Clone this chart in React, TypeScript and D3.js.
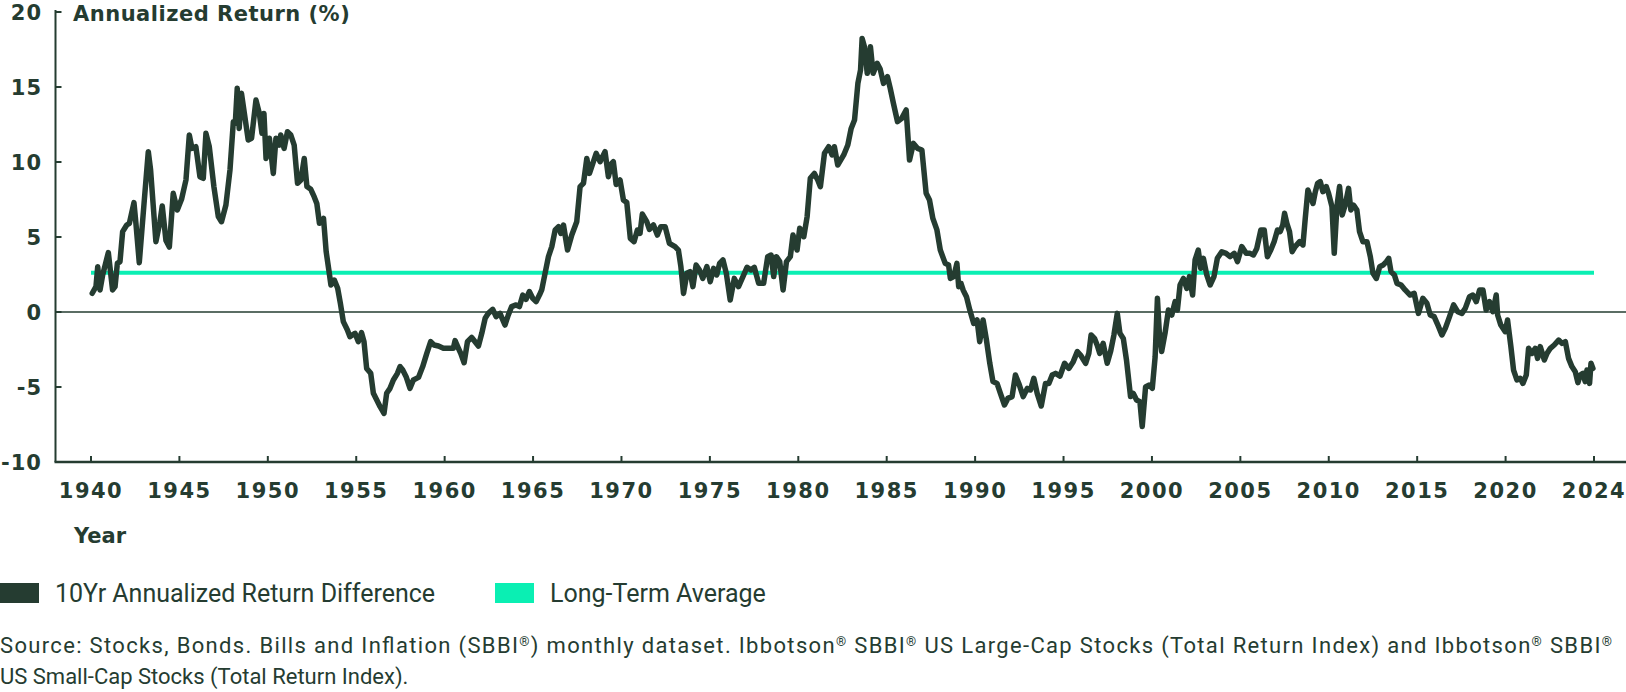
import React, { useRef, useEffect } from "react";
import * as d3 from "d3";

// 10-year annualized return difference (decimal year, %)
const returnDiff: [number, number][] = [
  [1940.07, 1.25], [1940.28, 1.69], [1940.38, 3.02], [1940.51, 1.47], [1940.66, 2.47], [1940.98, 3.96],
  [1941.22, 1.47], [1941.36, 1.69], [1941.49, 3.24], [1941.64, 3.36], [1941.79, 5.36], [1942.02, 5.8],
  [1942.17, 5.91], [1942.43, 7.29], [1942.54, 5.91], [1942.73, 3.29], [1943.0, 7.24], [1943.24, 10.69],
  [1943.37, 9.47], [1943.67, 4.69], [1943.9, 6.02], [1944.03, 7.07], [1944.24, 4.76], [1944.43, 4.33],
  [1944.65, 7.91], [1944.88, 6.8], [1945.12, 7.51], [1945.37, 8.8], [1945.56, 11.8], [1945.71, 10.91],
  [1945.93, 11.02], [1946.16, 9.02], [1946.35, 8.91], [1946.5, 11.91], [1946.69, 11.02], [1946.95, 8.36],
  [1947.2, 6.36], [1947.38, 6.02], [1947.63, 7.13], [1947.86, 9.47], [1948.05, 12.69], [1948.16, 12.58],
  [1948.27, 14.91], [1948.38, 12.24], [1948.51, 14.58], [1948.7, 13.02], [1948.89, 11.47], [1949.08, 11.58],
  [1949.33, 14.13], [1949.52, 13.24], [1949.67, 11.91], [1949.78, 13.24], [1949.9, 10.24], [1950.09, 11.58],
  [1950.31, 9.24], [1950.46, 11.58], [1950.65, 11.13], [1950.73, 11.8], [1950.92, 10.91], [1951.11, 12.02],
  [1951.3, 11.8], [1951.49, 11.13], [1951.68, 8.58], [1951.87, 8.8], [1952.06, 10.24], [1952.21, 8.36],
  [1952.43, 8.18], [1952.62, 7.69], [1952.77, 7.24], [1952.92, 5.91], [1953.15, 6.24], [1953.3, 4.02],
  [1953.45, 2.8], [1953.57, 1.8], [1953.76, 2.13], [1953.95, 1.58], [1954.1, 0.6], [1954.27, -0.64],
  [1954.5, -1.2], [1954.64, -1.64], [1954.93, -1.42], [1955.12, -1.98], [1955.3, -1.38], [1955.44, -1.98],
  [1955.59, -3.76], [1955.82, -4.09], [1955.97, -5.42], [1956.16, -5.87], [1956.35, -6.31], [1956.57, -6.76],
  [1956.72, -5.42], [1956.91, -5.09], [1957.1, -4.53], [1957.33, -4.09], [1957.48, -3.64], [1957.63, -3.87],
  [1957.82, -4.31], [1958.04, -5.09], [1958.23, -4.53], [1958.52, -4.36], [1958.76, -3.64], [1958.99, -2.76],
  [1959.21, -1.98], [1959.4, -2.2], [1959.65, -2.27], [1959.93, -2.42], [1960.21, -2.42], [1960.49, -2.42],
  [1960.59, -1.91], [1960.78, -2.42], [1960.91, -2.76], [1961.1, -3.38], [1961.29, -1.98], [1961.53, -1.69],
  [1961.72, -1.98], [1961.91, -2.27], [1962.1, -1.42], [1962.29, -0.42], [1962.47, -0.09], [1962.72, 0.18],
  [1962.91, -0.31], [1963.13, -0.09], [1963.41, -0.87], [1963.6, -0.2], [1963.79, 0.36], [1964.04, 0.47],
  [1964.23, 0.36], [1964.42, 1.13], [1964.6, 0.84], [1964.79, 1.36], [1964.98, 0.91], [1965.17, 0.69],
  [1965.36, 1.13], [1965.49, 1.47], [1965.68, 2.58], [1965.87, 3.69], [1966.06, 4.36], [1966.25, 5.47],
  [1966.44, 5.69], [1966.57, 5.24], [1966.72, 5.8], [1966.95, 4.13], [1967.19, 5.13], [1967.47, 6.02],
  [1967.66, 8.36], [1967.85, 8.58], [1968.04, 10.24], [1968.19, 9.24], [1968.38, 9.91], [1968.57, 10.58],
  [1968.79, 10.02], [1969.07, 10.69], [1969.26, 9.02], [1969.45, 9.91], [1969.54, 10.02], [1969.7, 8.5],
  [1969.92, 8.8], [1970.11, 7.47], [1970.3, 7.3], [1970.5, 4.91], [1970.71, 4.69], [1970.9, 5.47],
  [1971.05, 5.24], [1971.18, 6.53], [1971.43, 6.02], [1971.58, 5.51], [1971.81, 5.8], [1972.03, 5.13],
  [1972.22, 5.69], [1972.47, 5.69], [1972.71, 4.58], [1973.03, 4.36], [1973.22, 4.13], [1973.36, 3.02],
  [1973.51, 1.24], [1973.7, 2.58], [1973.88, 2.69], [1974.04, 1.69], [1974.22, 3.13], [1974.41, 2.8],
  [1974.6, 2.24], [1974.83, 3.02], [1975.02, 2.02], [1975.21, 2.91], [1975.39, 2.47], [1975.55, 3.24],
  [1975.74, 3.47], [1975.93, 2.58], [1976.15, 0.8], [1976.38, 2.24], [1976.62, 1.69], [1976.87, 2.36],
  [1977.1, 2.98], [1977.32, 2.8], [1977.51, 2.98], [1977.76, 1.91], [1978.04, 1.91], [1978.27, 3.69],
  [1978.46, 3.8], [1978.61, 2.36], [1978.76, 3.69], [1978.95, 3.36], [1979.14, 1.47], [1979.33, 3.36],
  [1979.55, 3.69], [1979.7, 5.13], [1979.93, 4.13], [1980.08, 5.58], [1980.31, 5.02], [1980.5, 6.36],
  [1980.68, 8.91], [1980.91, 9.24], [1981.1, 8.8], [1981.25, 8.36], [1981.48, 10.58], [1981.72, 11.02],
  [1981.91, 10.47], [1982.04, 11.02], [1982.23, 9.8], [1982.57, 10.47], [1982.8, 11.13], [1982.99, 12.24],
  [1983.18, 12.8], [1983.37, 15.24], [1983.52, 16.13], [1983.61, 18.24], [1983.74, 17.69], [1983.9, 15.91],
  [1984.08, 17.69], [1984.23, 15.91], [1984.46, 16.58], [1984.63, 16.2], [1984.82, 15.24], [1985.04, 15.69],
  [1985.2, 14.91], [1985.38, 13.91], [1985.61, 12.69], [1985.85, 12.91], [1986.1, 13.47], [1986.29, 10.13],
  [1986.51, 11.24], [1986.74, 10.91], [1986.99, 10.8], [1987.23, 7.91], [1987.42, 7.47], [1987.61, 6.24],
  [1987.84, 5.47], [1988.03, 4.13], [1988.31, 3.24], [1988.5, 3.13], [1988.6, 2.24], [1988.79, 2.36],
  [1988.97, 3.24], [1989.07, 1.69], [1989.2, 1.91], [1989.32, 1.47], [1989.51, 1.02], [1989.7, 0.13],
  [1989.92, -0.76], [1990.11, -0.53], [1990.26, -1.98], [1990.45, -0.53], [1990.64, -1.87], [1990.83, -3.42],
  [1991.01, -4.64], [1991.24, -4.76], [1991.43, -5.42], [1991.66, -6.2], [1991.85, -5.76], [1992.09, -5.64],
  [1992.28, -4.2], [1992.47, -4.76], [1992.72, -5.64], [1992.95, -5.09], [1993.13, -5.2], [1993.32, -4.42],
  [1993.51, -5.42], [1993.74, -6.27], [1993.98, -4.76], [1994.17, -4.76], [1994.36, -4.2], [1994.55, -4.09],
  [1994.8, -4.27], [1995.06, -3.42], [1995.3, -3.76], [1995.55, -3.31], [1995.78, -2.64], [1995.96, -2.87],
  [1996.25, -3.42], [1996.43, -2.76], [1996.56, -1.53], [1996.75, -1.76], [1996.9, -2.2], [1997.05, -2.76],
  [1997.24, -2.09], [1997.47, -3.42], [1997.66, -2.64], [1997.85, -1.53], [1998.04, -0.09], [1998.19, -1.42],
  [1998.38, -1.76], [1998.56, -3.2], [1998.79, -5.64], [1998.94, -5.42], [1999.13, -5.87], [1999.32, -5.98],
  [1999.45, -7.64], [1999.64, -5.0], [1999.83, -4.87], [2000.02, -5.09], [2000.18, -3.0], [2000.31, 0.91],
  [2000.42, -1.42], [2000.55, -2.64], [2000.74, -1.42], [2000.93, 0.13], [2001.12, -0.2], [2001.31, 0.69],
  [2001.44, 0.13], [2001.59, 1.8], [2001.78, 2.24], [2001.97, 1.58], [2002.12, 2.36], [2002.3, 1.13],
  [2002.44, 3.47], [2002.62, 4.13], [2002.76, 2.91], [2002.91, 3.58], [2003.1, 2.47], [2003.29, 1.8],
  [2003.51, 2.36], [2003.7, 3.58], [2003.95, 4.02], [2004.19, 3.91], [2004.42, 3.69], [2004.65, 3.91],
  [2004.84, 3.36], [2005.08, 4.36], [2005.33, 3.91], [2005.55, 3.91], [2005.74, 3.8], [2005.93, 4.24],
  [2006.16, 5.47], [2006.35, 5.47], [2006.53, 3.69], [2006.72, 4.13], [2006.91, 4.69], [2007.1, 5.47],
  [2007.25, 5.36], [2007.4, 5.8], [2007.5, 6.58], [2007.63, 5.91], [2007.78, 5.36], [2007.93, 4.02],
  [2008.1, 4.36], [2008.35, 4.69], [2008.54, 4.47], [2008.67, 6.24], [2008.82, 8.13], [2008.96, 7.69],
  [2009.11, 7.24], [2009.24, 8.02], [2009.37, 8.58], [2009.52, 8.69], [2009.67, 8.02], [2009.86, 8.36],
  [2009.99, 7.91], [2010.18, 7.02], [2010.31, 3.91], [2010.46, 7.02], [2010.61, 8.36], [2010.76, 6.47],
  [2010.93, 7.13], [2011.12, 8.24], [2011.25, 6.8], [2011.4, 7.13], [2011.59, 6.8], [2011.74, 5.36],
  [2011.93, 4.69], [2012.16, 4.69], [2012.35, 3.69], [2012.5, 2.58], [2012.69, 2.24], [2012.88, 3.02],
  [2013.07, 3.13], [2013.26, 3.36], [2013.39, 3.58], [2013.52, 2.69], [2013.71, 2.47], [2013.86, 1.91],
  [2014.09, 1.8], [2014.32, 1.47], [2014.6, 1.13], [2014.83, 1.24], [2015.07, -0.09], [2015.32, 0.91],
  [2015.55, 0.58], [2015.74, -0.2], [2015.96, -0.31], [2016.21, -0.98], [2016.4, -1.53], [2016.59, -1.09],
  [2016.83, -0.31], [2017.06, 0.47], [2017.29, 0.02], [2017.53, -0.09], [2017.72, 0.24], [2017.96, 1.02],
  [2018.15, 1.13], [2018.34, 0.69], [2018.53, 1.47], [2018.72, 1.47], [2018.9, 0.13], [2019.09, 0.69],
  [2019.28, 0.02], [2019.47, 1.13], [2019.55, -0.2], [2019.73, -0.87], [2019.98, -1.31], [2020.11, -0.53],
  [2020.3, -2.31], [2020.45, -3.87], [2020.64, -4.53], [2020.83, -4.42], [2020.98, -4.76], [2021.17, -4.2],
  [2021.3, -2.42], [2021.49, -2.76], [2021.68, -2.42], [2021.81, -3.09], [2021.96, -2.31], [2022.19, -3.2],
  [2022.34, -2.76], [2022.53, -2.42], [2022.75, -2.2], [2023.0, -1.87], [2023.19, -2.09], [2023.38, -1.98],
  [2023.56, -3.09], [2023.75, -3.64], [2023.94, -3.98], [2024.09, -4.71], [2024.22, -4.2], [2024.37, -4.09],
  [2024.5, -4.64], [2024.6, -3.87], [2024.75, -4.76], [2024.83, -3.42], [2024.94, -3.76],
];

const longTermAvg = 2.62;

const yTicks = [-10, -5, 0, 5, 10, 15, 20];
const xTickValues = [1940, 1945, 1950, 1955, 1960, 1965, 1970, 1975, 1980, 1985, 1990, 1995, 2000, 2005, 2010, 2015, 2020, 2025];
const xTickLabels = ["1940", "1945", "1950", "1955", "1960", "1965", "1970", "1975", "1980", "1985", "1990", "1995", "2000", "2005", "2010", "2015", "2020", "2024"];

const legendItems = ["10Yr Annualized Return Difference", "Long-Term Average"];
const sourceLines = [
  "Source: Stocks, Bonds. Bills and Inflation (SBBI®) monthly dataset. Ibbotson® SBBI® US Large-Cap Stocks (Total Return Index) and Ibbotson® SBBI®",
  "US Small-Cap Stocks (Total Return Index).",
];

const dark = "#253c31";
const teal = "#0aefb3";
const boldFont = "'DejaVu Sans', sans-serif";
const textFont = "Roboto, 'Liberation Sans', sans-serif";

export default function App() {
  const ref = useRef<SVGSVGElement>(null);
  const width = 1626;
  const height = 692;

  useEffect(() => {
    const svg = d3.select(ref.current);
    svg.selectAll("*").remove();

    const x = d3.scaleLinear().domain([1940, 2025]).range([91, 1594]);
    const y = d3.scaleLinear().domain([-10, 20]).range([462, 12]);
    const axisX = 55.5;

    // zero line
    svg.append("line")
      .attr("x1", axisX).attr("x2", width)
      .attr("y1", y(0)).attr("y2", y(0))
      .attr("stroke", dark).attr("stroke-width", 1.5);

    // Y axis
    svg.append("line")
      .attr("x1", axisX).attr("x2", axisX)
      .attr("y1", y(20) - 2).attr("y2", y(-10))
      .attr("stroke", dark).attr("stroke-width", 2);
    yTicks.forEach(t => {
      svg.append("line")
        .attr("x1", axisX).attr("x2", axisX + 6)
        .attr("y1", y(t)).attr("y2", y(t))
        .attr("stroke", dark).attr("stroke-width", 2);
      svg.append("text")
        .attr("x", 42).attr("y", y(t))
        .attr("dy", "0.36em")
        .attr("text-anchor", "end")
        .attr("font-family", boldFont).attr("font-weight", "bold")
        .attr("font-size", 21).attr("letter-spacing", 1)
        .attr("fill", dark)
        .text(t);
    });

    // X axis
    svg.append("line")
      .attr("x1", axisX - 1).attr("x2", width)
      .attr("y1", y(-10)).attr("y2", y(-10))
      .attr("stroke", dark).attr("stroke-width", 2.5);
    xTickValues.forEach((t, i) => {
      svg.append("line")
        .attr("x1", x(t)).attr("x2", x(t))
        .attr("y1", y(-10)).attr("y2", y(-10) - 6)
        .attr("stroke", dark).attr("stroke-width", 2);
      svg.append("text")
        .attr("x", x(t)).attr("y", y(-10) + 36)
        .attr("text-anchor", "middle")
        .attr("font-family", boldFont).attr("font-weight", "bold")
        .attr("font-size", 21).attr("letter-spacing", 1.5)
        .attr("fill", dark)
        .text(xTickLabels[i]);
    });

    // long-term average
    svg.append("line")
      .attr("x1", x(1940)).attr("x2", x(2025))
      .attr("y1", y(longTermAvg)).attr("y2", y(longTermAvg))
      .attr("stroke", teal).attr("stroke-width", 4);

    // return difference line
    const line = d3.line<[number, number]>()
      .x(d => x(d[0]))
      .y(d => y(d[1]));
    svg.append("path")
      .datum(returnDiff)
      .attr("d", line)
      .attr("fill", "none")
      .attr("stroke", dark)
      .attr("stroke-width", 5.5)
      .attr("stroke-linejoin", "round")
      .attr("stroke-linecap", "round");

    // titles
    svg.append("text")
      .attr("x", 73).attr("y", 21)
      .attr("font-family", boldFont).attr("font-weight", "bold")
      .attr("font-size", 21).attr("letter-spacing", 0.5).attr("fill", dark)
      .text("Annualized Return (%)");
    svg.append("text")
      .attr("x", 74).attr("y", 543)
      .attr("font-family", boldFont).attr("font-weight", "bold")
      .attr("font-size", 21).attr("fill", dark)
      .text("Year");

    // legend
    const legendX = [0, 495];
    const legendColors = [dark, teal];
    legendItems.forEach((label, i) => {
      svg.append("rect")
        .attr("x", legendX[i]).attr("y", 583)
        .attr("width", 39).attr("height", 20)
        .attr("fill", legendColors[i]);
      svg.append("text")
        .attr("x", legendX[i] + 55).attr("y", 593)
        .attr("dy", "0.36em")
        .attr("font-family", textFont).attr("font-size", 25)
        .attr("fill", dark)
        .text(label);
    });

    // source, with small raised ® marks; first line stretched to full width
    sourceLines.forEach((s, i) => {
      const t = svg.append("text")
        .attr("x", 0).attr("y", 653 + i * 31)
        .attr("font-family", textFont).attr("font-size", 22)
        .attr("fill", dark);
      s.split("®").forEach((part, j, arr) => {
        t.append("tspan").text(part);
        if (j < arr.length - 1) {
          t.append("tspan")
            .attr("font-size", 13)
            .attr("baseline-shift", "super")
            .text("®");
        }
      });
      if (i === 0) {
        t.attr("textLength", 1612).attr("lengthAdjust", "spacing");
      }
    });
  }, []);

  return (
    <svg
      ref={ref}
      width={width}
      height={height}
      style={{ position: "absolute", left: 0, top: 0, background: "#fff" }}
    />
  );
}
